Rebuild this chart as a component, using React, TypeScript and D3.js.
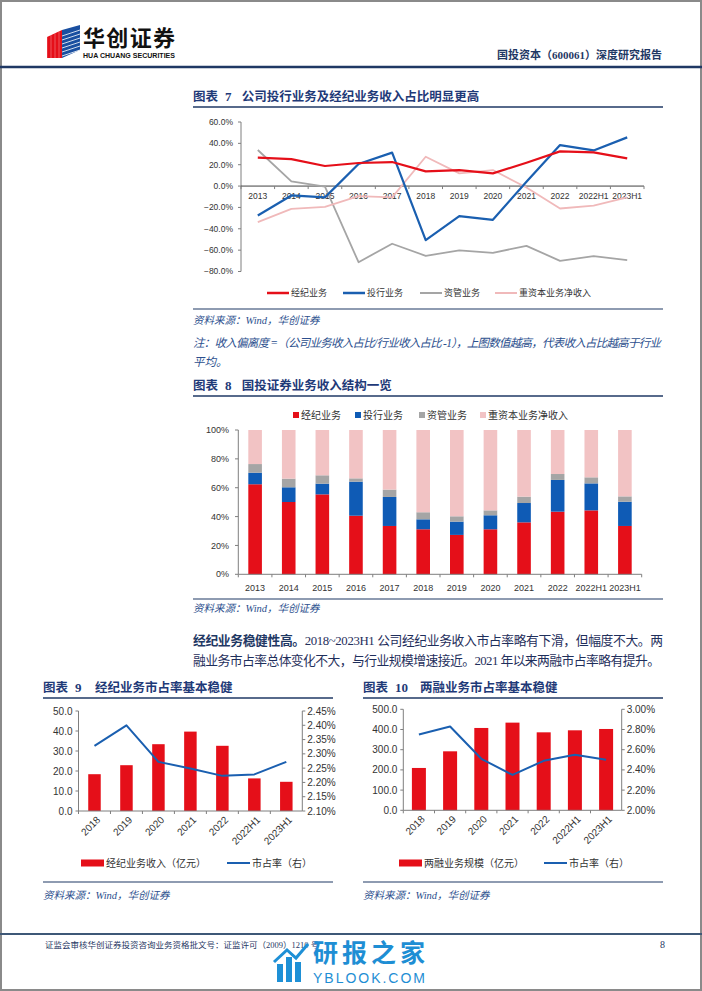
import React from 'react';
import * as d3 from 'd3';

const years7 = ['2013', '2014', '2015', '2016', '2017', '2018', '2019', '2020', '2021', '2022', '2022H1', '2023H1'];
const brokerageDev = [26.6, 25.3, 18.8, 21.6, 22.5, 13.8, 15.0, 11.9, 21.9, 32.5, 31.6, 25.9];
const ibDev = [-27.5, -8.8, -10.6, 20.6, 31.3, -50.6, -28.1, -31.6, 4.0, 38.4, 33.4, 45.6];
const amDev = [33.8, 4.4, -0.6, -71.3, -54.0, -65.3, -60.3, -62.5, -56.0, -70.0, -65.6, -69.4];
const heavyDev = [-33.8, -21.3, -19.4, -9.4, -10.6, 27.5, 11.9, 15.0, -1.3, -21.0, -18.4, -10.6];
const devTicks = [-80, -60, -40, -20, 0, 20, 40, 60];

const brokerageShare = [62.4, 50.1, 55.4, 40.6, 33.5, 31.2, 27.3, 31.2, 36.0, 43.4, 44.3, 33.5];
const ibShare = [8.0, 10.2, 7.4, 23.6, 20.1, 6.9, 9.2, 9.7, 13.4, 22.0, 18.7, 16.8];
const amShare = [6.0, 6.0, 5.8, 2.3, 5.1, 4.9, 3.7, 3.4, 4.4, 4.1, 4.2, 3.7];
const heavyShare = [23.6, 33.7, 31.4, 33.5, 41.3, 57.0, 59.8, 55.7, 46.2, 30.5, 32.8, 46.0];
const shareTicks = [0, 20, 40, 60, 80, 100];

const years9 = ['2018', '2019', '2020', '2021', '2022', '2022H1', '2023H1'];
const brokerageRev = [18.4, 22.9, 33.4, 39.7, 32.6, 16.3, 14.6];
const brokerageMkt = [2.328, 2.400, 2.272, 2.249, 2.223, 2.228, 2.272];
const revTicks = [0, 10, 20, 30, 40, 50];
const mkt9Ticks = [2.10, 2.15, 2.20, 2.25, 2.30, 2.35, 2.40, 2.45];

const marginScale = [209.6, 292.0, 407.6, 434.0, 386.0, 396.0, 402.6];
const marginMkt = [2.75, 2.83, 2.51, 2.35, 2.49, 2.55, 2.50];
const scaleTicks = [0, 100, 200, 300, 400, 500];
const mkt10Ticks = [2.0, 2.2, 2.4, 2.6, 2.8, 3.0];

const legend7 = ['经纪业务', '投行业务', '资管业务', '重资本业务净收入'];
const legend8 = ['经纪业务', '投行业务', '资管业务', '重资本业务净收入'];

const RED = '#E50F19';
const BLUE = '#1A5FB0';
const GRAY = '#A5A5A5';
const PINK = '#F0B9BA';
const PINKFILL = '#F2C3C4';
const NAVY = '#1F3864';
const TITLE = '#1F3A78';
const SRC = '#2C4F8E';
const AXIS = '#7F7F7F';
const CJK = '"Noto Sans CJK SC", sans-serif';
const SERIF = '"Liberation Serif", "Noto Sans CJK SC", serif';
const SANS = '"Liberation Sans", "Noto Sans CJK SC", sans-serif';

function Title({ x, y, num, text, numW, lineEnd }: any) {
  return (
    <g>
      <text x={x} y={y} fontFamily={CJK} fontWeight={700} fontSize={12.5} fill={TITLE}>图表</text>
      <text x={x + 32} y={y} fontFamily={SERIF} fontWeight={700} fontSize={13} fill={TITLE}>{num}</text>
      <text x={x + numW} y={y} fontFamily={CJK} fontWeight={700} fontSize={12.5} fill={TITLE}>{text}</text>
      <line x1={x} x2={lineEnd} y1={y + 6} y2={y + 6} stroke={NAVY} strokeWidth={1.5} />
    </g>
  );
}

function Source({ x, y }: any) {
  return (
    <text x={x} y={y} fontFamily={SERIF} fontStyle="italic" fontSize={10.5} fill={SRC}>资料来源：Wind，华创证券</text>
  );
}

function Chart7() {
  const x = d3.scaleBand().domain(years7).range([241, 644]);
  const y = d3.scaleLinear().domain([-80, 60]).range([271.5, 122]);
  const cx = (d: string) => (x(d) as number) + x.bandwidth() / 2;
  const line = d3.line<number>().x((_, i) => cx(years7[i])).y((v) => y(v));
  const series = [
    { name: legend7[2], vals: amDev, color: GRAY, w: 1.8 },
    { name: legend7[3], vals: heavyDev, color: PINK, w: 1.8 },
    { name: legend7[1], vals: ibDev, color: BLUE, w: 2.2 },
    { name: legend7[0], vals: brokerageDev, color: RED, w: 2.2 },
  ];
  const legendItems = [
    { name: legend7[0], color: RED, w: 2.5, x: 267 },
    { name: legend7[1], color: BLUE, w: 2.5, x: 343 },
    { name: legend7[2], color: GRAY, w: 2, x: 420 },
    { name: legend7[3], color: PINK, w: 2, x: 495 },
  ];
  return (
    <g>
      {devTicks.map((t) => (
        <g key={t}>
          <line x1={238} x2={241} y1={y(t)} y2={y(t)} stroke={AXIS} />
          <text x={233} y={y(t)} dy="0.35em" textAnchor="end" fontFamily={SANS} fontSize={8.5} fill="#333">{d3.format('.1f')(t)}%</text>
        </g>
      ))}
      <line x1={241} x2={241} y1={y(60)} y2={y(-80)} stroke={AXIS} />
      <line x1={241} x2={644} y1={y(0)} y2={y(0)} stroke="#404040" />
      {years7.map((d) => (
        <line key={d} x1={x(d) as number} x2={x(d) as number} y1={y(0)} y2={y(0) + 3} stroke={AXIS} />
      ))}
      <line x1={644} x2={644} y1={y(0)} y2={y(0) + 3} stroke={AXIS} />
      {years7.map((d) => (
        <text key={d} x={cx(d)} y={y(0) + 13} textAnchor="middle" fontFamily={SANS} fontSize={8.5} fill="#333">{d}</text>
      ))}
      {series.map((s) => (
        <path key={s.name} d={line(s.vals) as string} fill="none" stroke={s.color} strokeWidth={s.w} strokeLinejoin="round" />
      ))}
      {legendItems.map((l) => (
        <g key={l.name}>
          <line x1={l.x} x2={l.x + 22} y1={293} y2={293} stroke={l.color} strokeWidth={l.w} />
          <text x={l.x + 24} y={293} dy="0.35em" fontFamily={CJK} fontSize={9} fill="#333">{l.name}</text>
        </g>
      ))}
    </g>
  );
}

function Chart8() {
  const x = d3.scaleBand().domain(years7).range([238.3, 641.7]);
  const y = d3.scaleLinear().domain([0, 100]).range([574.3, 430]);
  const rows = years7.map((d, i) => ({ year: d, a: brokerageShare[i], b: ibShare[i], c: amShare[i], e: heavyShare[i] }));
  const stack = d3.stack<any>().keys(['a', 'b', 'c', 'e'])(rows);
  const colors = [RED, '#0F5BB5', GRAY, PINKFILL];
  const bw = 13.6;
  const legendItems = [
    { name: legend8[0], color: RED, x: 293 },
    { name: legend8[1], color: '#0F5BB5', x: 355 },
    { name: legend8[2], color: GRAY, x: 419 },
    { name: legend8[3], color: PINKFILL, x: 480 },
  ];
  return (
    <g>
      {legendItems.map((l) => (
        <g key={l.name}>
          <rect x={l.x} y={412} width={6} height={6} fill={l.color} />
          <text x={l.x + 8} y={415} dy="0.35em" fontFamily={CJK} fontSize={10} fill="#333">{l.name}</text>
        </g>
      ))}
      {shareTicks.map((t) => (
        <g key={t}>
          <line x1={235} x2={238.3} y1={y(t)} y2={y(t)} stroke={AXIS} />
          <text x={229} y={y(t)} dy="0.35em" textAnchor="end" fontFamily={SANS} fontSize={9} fill="#333">{t}%</text>
        </g>
      ))}
      {stack.map((layer, k) => (
        <g key={k} fill={colors[k]}>
          {layer.map((seg: any) => (
            <rect key={seg.data.year} x={(x(seg.data.year) as number) + x.bandwidth() / 2 - bw / 2} y={y(seg[1])} width={bw} height={y(seg[0]) - y(seg[1])} />
          ))}
        </g>
      ))}
      <line x1={238.3} x2={238.3} y1={y(100)} y2={y(0)} stroke={AXIS} />
      <line x1={238.3} x2={641.7} y1={y(0)} y2={y(0)} stroke={AXIS} />
      {years7.map((d) => (
        <line key={d} x1={x(d) as number} x2={x(d) as number} y1={y(0)} y2={y(0) + 3} stroke={AXIS} />
      ))}
      <line x1={641.7} x2={641.7} y1={y(0)} y2={y(0) + 3} stroke={AXIS} />
      {years7.map((d) => (
        <text key={d} x={(x(d) as number) + x.bandwidth() / 2} y={588} dy="0.35em" textAnchor="middle" fontFamily={SANS} fontSize={9} fill="#333">{d}</text>
      ))}
    </g>
  );
}

function DualChart({ x0, x1, yTop, yBot, leftDomain, rightDomain, leftTicks, rightTicks, leftFmt, rightFmt, bars, line, bw, fontSize, legendBar, legendLine, lbX, llX }: any) {
  const x = d3.scaleBand().domain(years9).range([x0, x1]);
  const yl = d3.scaleLinear().domain(leftDomain).range([yBot, yTop]);
  const yr = d3.scaleLinear().domain(rightDomain).range([yBot, yTop]);
  const cx = (d: string) => (x(d) as number) + x.bandwidth() / 2;
  const path = d3.line<number>().x((_, i) => cx(years9[i])).y((v) => yr(v));
  return (
    <g>
      {leftTicks.map((t: number) => (
        <g key={t}>
          <line x1={x0 - 3} x2={x0} y1={yl(t)} y2={yl(t)} stroke={AXIS} />
          <text x={x0 - 6} y={yl(t)} dy="0.35em" textAnchor="end" fontFamily={SANS} fontSize={fontSize} fill="#333">{leftFmt(t)}</text>
        </g>
      ))}
      {rightTicks.map((t: number) => (
        <g key={t}>
          <line x1={x1} x2={x1 + 3} y1={yr(t)} y2={yr(t)} stroke={AXIS} />
          <text x={x1 + 5} y={yr(t)} dy="0.35em" textAnchor="start" fontFamily={SANS} fontSize={fontSize} fill="#333">{rightFmt(t)}</text>
        </g>
      ))}
      {bars.map((v: number, i: number) => (
        <rect key={i} x={cx(years9[i]) - bw / 2} y={yl(v)} width={bw} height={yl(0) - yl(v)} fill={RED} />
      ))}
      <line x1={x0} x2={x0} y1={yTop} y2={yBot} stroke={AXIS} />
      <line x1={x1} x2={x1} y1={yTop} y2={yBot} stroke={AXIS} />
      <line x1={x0} x2={x1} y1={yBot} y2={yBot} stroke={AXIS} />
      {years9.map((d) => (
        <line key={d} x1={x(d) as number} x2={x(d) as number} y1={yBot} y2={yBot + 3} stroke={AXIS} />
      ))}
      <path d={path(line) as string} fill="none" stroke={BLUE} strokeWidth={2} strokeLinejoin="round" />
      {years9.map((d) => (
        <text key={d} transform={`translate(${cx(d) + 4},${yBot + 7}) rotate(-45)`} textAnchor="end" dy="0.35em" fontFamily={SANS} fontSize={fontSize} fill="#333">{d}</text>
      ))}
      <rect x={lbX} y={859.5} width={23} height={7} fill={RED} />
      <text x={lbX + 25} y={863} dy="0.35em" fontFamily={CJK} fontSize={10} fill="#333">{legendBar}</text>
      <line x1={llX} x2={llX + 23} y1={863} y2={863} stroke={BLUE} strokeWidth={2} />
      <text x={llX + 25} y={863} dy="0.35em" fontFamily={CJK} fontSize={10} fill="#333">{legendLine}</text>
    </g>
  );
}

function Logo() {
  return (
    <g>
      <polygon points="47,37 62,30 62,58 47,58" fill="#E50F19" />
      <polygon points="62,30 80,25 80,50 62,58" fill="#1A4FA0" />
      {[0, 1, 2, 3, 4, 5].map((i) => (
        <line key={i} x1={62} y1={36 + i * 4} x2={80} y2={30 + i * 4} stroke="#fff" strokeWidth={1} opacity={0.8} />
      ))}
      {[0, 1, 2, 3].map((i) => (
        <line key={'r' + i} x1={47 + i * 4} y1={37 - i * 1.8} x2={47 + i * 4} y2={58} stroke="#fff" strokeWidth={0.6} opacity={0.5} />
      ))}
    </g>
  );
}

function Watermark() {
  return (
    <g>
      <rect x={277} y={964} width={6} height={18} fill="#1E90D6" />
      <rect x={286} y={957} width={6} height={25} fill="#1E90D6" />
      <rect x={295} y={962} width={6} height={20} fill="#1E90D6" />
      <polyline points="274,962 287,950 296,958 308,944" fill="none" stroke="#1E90D6" strokeWidth={3} />
      <text x={313} y={962} fontFamily={CJK} fontWeight={700} fontSize={25} fill="#1E8ED4" textLength={112}>研报之家</text>
      <text x={313} y={983} fontFamily={SANS} fontSize={14} fill="#1E8ED4" textLength={112}>YBLOOK.COM</text>
    </g>
  );
}

export default function App() {
  return (
    <svg width={702} height={991} style={{ position: 'absolute', left: 0, top: 0, background: '#fff' }}>
      <rect x={0} y={0} width={702} height={991} fill="#fff" />
      <rect x={1} y={1} width={700} height={989} fill="none" stroke="#8a8a8a" strokeWidth={2} />
      <Logo />
      <text x={83} y={46} fontFamily={CJK} fontWeight={700} fontSize={22} fill="#111" textLength={92}>华创证券</text>
      <text x={83} y={57.5} fontFamily={SANS} fontWeight={700} fontSize={6.5} fill="#111" textLength={92} lengthAdjust="spacingAndGlyphs">HUA CHUANG SECURITIES</text>
      <text x={662} y={59} textAnchor="end" fontFamily={SERIF} fontWeight={700} fontSize={11} fill={NAVY}>国投资本（600061）深度研究报告</text>
      <line x1={0} x2={702} y1={67} y2={67} stroke={NAVY} strokeWidth={2.5} />

      <Title x={193} y={101} num="7" numW={48.7} text="公司投行业务及经纪业务收入占比明显更高" lineEnd={663} />
      <Chart7 />
      <line x1={193} x2={663} y1={309} y2={309} stroke={NAVY} strokeWidth={1.2} />
      <Source x={193} y={324} />
      <text x={193} y={347} fontFamily={SERIF} fontStyle="italic" fontSize={11.5} fill={SRC} textLength={468} lengthAdjust="spacing">注：收入偏离度 =（公司业务收入占比/行业收入占比 -1），上图数值越高，代表收入占比越高于行业</text>
      <text x={193} y={366} fontFamily={SERIF} fontStyle="italic" fontSize={11.5} fill={SRC}>平均。</text>

      <Title x={193} y={390} num="8" numW={48.7} text="国投证券业务收入结构一览" lineEnd={663} />
      <Chart8 />
      <line x1={193} x2={663} y1={599} y2={599} stroke={NAVY} strokeWidth={1.2} />
      <Source x={193} y={612} />

      <text x={193} y={644.5} fontFamily={SERIF} fontSize={12.8} fill="#1F2F5C" textLength={470} lengthAdjust="spacing">
        <tspan fontWeight={700} fill={NAVY}>经纪业务稳健性高。</tspan>
        <tspan>2018~2023H1 公司经纪业务收入市占率略有下滑，但幅度不大。两</tspan>
      </text>
      <text x={193} y={664.5} fontFamily={SERIF} fontSize={12.8} fill="#1F2F5C" textLength={467} lengthAdjust="spacing">融业务市占率总体变化不大，与行业规模增速接近。2021 年以来两融市占率略有提升。</text>

      <Title x={43} y={692} num="9" numW={52} text="经纪业务市占率基本稳健" lineEnd={333} />
      <DualChart x0={78.5} x1={302.3} yTop={711} yBot={811} leftDomain={[0, 50]} rightDomain={[2.10, 2.45]}
        leftTicks={revTicks} rightTicks={mkt9Ticks} leftFmt={d3.format('.1f')} rightFmt={(t: number) => d3.format('.2f')(t) + '%'}
        bars={brokerageRev} line={brokerageMkt} bw={12.5} fontSize={10} legendBar="经纪业务收入（亿元）" legendLine="市占率（右）" lbX={81} llX={227} />
      <line x1={43} x2={333} y1={882} y2={882} stroke={NAVY} strokeWidth={1.2} />
      <Source x={43} y={899} />

      <Title x={363} y={692} num="10" numW={57} text="两融业务市占率基本稳健" lineEnd={663} />
      <DualChart x0={403.3} x1={621.7} yTop={709.3} yBot={810.3} leftDomain={[0, 500]} rightDomain={[2.0, 3.0]}
        leftTicks={scaleTicks} rightTicks={mkt10Ticks} leftFmt={d3.format('.1f')} rightFmt={(t: number) => d3.format('.2f')(t) + '%'}
        bars={marginScale} line={marginMkt} bw={14} fontSize={10} legendBar="两融业务规模（亿元）" legendLine="市占率（右）" lbX={399} llX={544} />
      <line x1={363} x2={663} y1={882} y2={882} stroke={NAVY} strokeWidth={1.2} />
      <Source x={363} y={899} />

      <line x1={0} x2={702} y1={934} y2={934} stroke="#3E5877" strokeWidth={2} />
      <text x={45} y={948} fontFamily={SERIF} fontSize={8.5} fill={NAVY}>证监会审核华创证券投资咨询业务资格批文号：证监许可（2009）1210 号</text>
      <text x={660} y={948} fontFamily={SERIF} fontSize={10} fill={NAVY}>8</text>
      <Watermark />
    </svg>
  );
}
